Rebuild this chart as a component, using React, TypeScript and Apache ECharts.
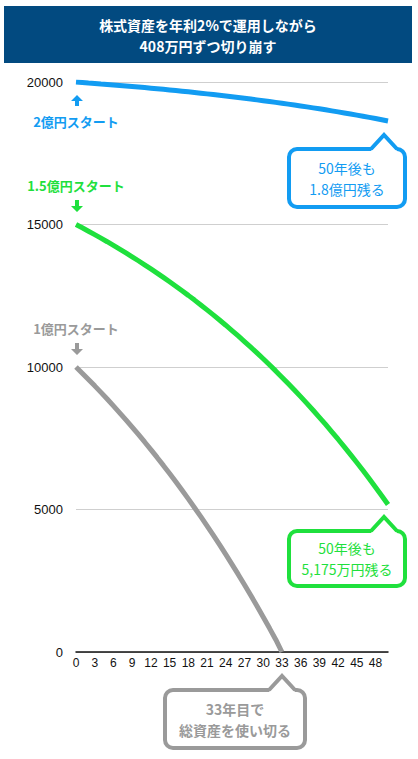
import { useEffect, useRef } from "react";
import * as echarts from "echarts";

const JP = "'Noto Sans CJK JP', 'Noto Sans', sans-serif";
const NUM = "'Liberation Sans', Arial, sans-serif";

const BLUE = "#129cf2";
const GREEN = "#1fe03d";
const GRAY = "#9a9a9a";

// years 0..50
const YEARS = Array.from({ length: 51 }, (_, i) => String(i));

// 2億円スタート (万円)
const START_2 = [
  20000, 19984, 19967, 19951, 19933, 19916, 19898, 19880, 19861, 19842,
  19823, 19803, 19783, 19763, 19742, 19721, 19699, 19677, 19654, 19631,
  19607, 19583, 19559, 19534, 19508, 19482, 19456, 19429, 19401, 19373,
  19344, 19315, 19285, 19255, 19224, 19192, 19160, 19127, 19093, 19059,
  19024, 18988, 18952, 18915, 18877, 18838, 18799, 18759, 18718, 18676,
  18633,
];

// 1.5億円スタート
const START_15 = [
  15000, 14884, 14765, 14645, 14521, 14396, 14267, 14136, 14003, 13867,
  13728, 13586, 13442, 13295, 13144, 12991, 12835, 12675, 12513, 12347,
  12178, 12005, 11829, 11649, 11466, 11279, 11089, 10894, 10696, 10494,
  10288, 10077, 9863, 9644, 9420, 9193, 8960, 8723, 8482, 8235,
  7984, 7727, 7466, 7199, 6927, 6649, 6366, 6077, 5782, 5482,
  5175,
];

// 1億円スタート (33年目で0)
const START_1 = [
  10000, 9784, 9563, 9338, 9109, 8875, 8636, 8393, 8145, 7891,
  7633, 7370, 7101, 6827, 6547, 6262, 5971, 5674, 5372, 5063,
  4748, 4427, 4099, 3765, 3424, 3076, 2722, 2360, 1991, 1615,
  1231, 839, 440, 0,
];

function arrow(x: number, top: number, up: boolean, color: string) {
  const pts = up
    ? [[x, top], [x + 6, top + 6], [x + 2, top + 6], [x + 2, top + 11], [x - 2, top + 11], [x - 2, top + 6], [x - 6, top + 6]]
    : [[x - 2, top], [x + 2, top], [x + 2, top + 6], [x + 6, top + 6], [x, top + 12], [x - 6, top + 6], [x - 2, top + 6]];
  return { type: "polygon", shape: { points: pts }, style: { fill: color } };
}

function callout(x: number, y: number, w: number, h: number, tipX: number, color: string, text: string, bold: boolean) {
  return [
    { type: "rect", shape: { x, y, width: w, height: h, r: 8 }, style: { fill: "#fff", stroke: color, lineWidth: 4 } },
    { type: "polygon", shape: { points: [[tipX - 13, y + 2], [tipX, y - 14], [tipX + 13, y + 2]] }, style: { fill: "#fff" } },
    { type: "polyline", shape: { points: [[tipX - 13, y], [tipX, y - 14], [tipX + 13, y]] }, style: { stroke: color, lineWidth: 4, fill: "none" } },
    {
      type: "text",
      style: {
        text, x: x + w / 2, y: y + h / 2, align: "center", verticalAlign: "middle",
        fill: color, font: `${bold ? "bold" : "normal"} 14px ${JP}`, lineHeight: 21,
      },
    },
  ];
}

function Chart() {
  const ref = useRef<HTMLDivElement>(null);
  useEffect(() => {
    document.body.style.margin = "0";
    if (!ref.current) return;
    const chart = echarts.init(ref.current, null, { renderer: "svg" });
    const line = (data: number[], color: string) => ({
      type: "line" as const, data, symbol: "none", smooth: false,
      lineStyle: { color, width: 5 }, itemStyle: { color }, silent: true,
    });
    chart.setOption({
      animation: false,
      grid: { left: 76, right: 30, top: 82, bottom: 107 },
      xAxis: {
        type: "category", data: YEARS, boundaryGap: false,
        axisLine: { lineStyle: { color: "#111", width: 1.5 } },
        axisTick: { show: false },
        axisLabel: { interval: 2, color: "#111", fontSize: 12, fontFamily: NUM, margin: 5 },
      },
      yAxis: {
        type: "value", min: 0, max: 20000, interval: 5000,
        axisLine: { show: false }, axisTick: { show: false },
        axisLabel: { color: "#111", fontSize: 13, fontFamily: NUM, margin: 13, formatter: (v: number) => String(v) },
        splitLine: { lineStyle: { color: "#cfcfcf" } },
      },
      series: [line(START_1, GRAY), line(START_15, GREEN), line(START_2, BLUE)],
      graphic: [
        { type: "rect", shape: { x: 4, y: 6, width: 408, height: 57 }, style: { fill: "#024a80" } },
        {
          type: "text",
          style: {
            text: "株式資産を年利2%で運用しながら\n408万円ずつ切り崩す", x: 208, y: 35,
            align: "center", verticalAlign: "middle", fill: "#fff", font: `bold 14px ${JP}`, lineHeight: 21,
          },
        },
        arrow(77, 95, true, BLUE),
        { type: "text", style: { text: "2億円スタート", x: 76, y: 121, align: "center", verticalAlign: "middle", fill: BLUE, font: `bold 13px ${JP}` } },
        { type: "text", style: { text: "1.5億円スタート", x: 76, y: 185, align: "center", verticalAlign: "middle", fill: GREEN, font: `bold 13px ${JP}` } },
        arrow(77, 200, false, GREEN),
        { type: "text", style: { text: "1億円スタート", x: 76, y: 328, align: "center", verticalAlign: "middle", fill: GRAY, font: `bold 13px ${JP}` } },
        arrow(77, 343, false, GRAY),
        ...callout(289, 149, 116, 58, 384, BLUE, "50年後も\n1.8億円残る", false),
        ...callout(289, 531, 116, 55, 384, GREEN, "50年後も\n5,175万円残る", false),
        ...callout(165, 690, 140, 58, 282, GRAY, "33年目で\n総資産を使い切る", true),
      ],
    });
    return () => chart.dispose();
  }, []);
  return <div ref={ref} style={{ width: 418, height: 759 }} />;
}

export default function App() {
  return <Chart />;
}
